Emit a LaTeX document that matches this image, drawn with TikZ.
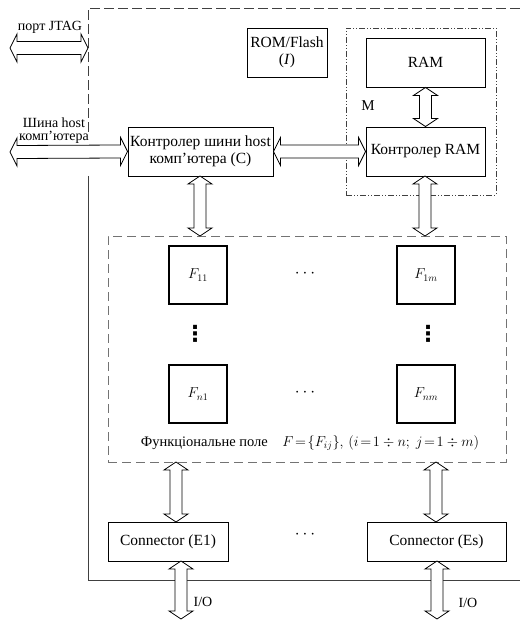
\documentclass[tikz,border=0pt]{standalone}
\usepackage{fontspec}
\setmainfont{Liberation Serif}
\newfontfamily\dotsfont{DejaVu Sans}
\usetikzlibrary{calc}

\tikzset{
  box/.style={draw, line width=0.9pt, align=center, inner sep=1pt, font=\fontsize{15.5}{17}\selectfont},
  fbox/.style={draw, line width=2.4pt, minimum width=58pt, minimum height=58pt, inner sep=0pt, font=\fontsize{14}{15}\selectfont},
  board/.style={black!75, line width=0.9pt, dash pattern=on 10pt off 4pt},
  fieldbox/.style={draw=black!55, line width=0.9pt, dash pattern=on 9pt off 5pt},
  membox/.style={draw=black!75, line width=0.8pt, dash pattern=on 6pt off 2pt on 1pt off 2pt on 1pt off 2pt},
  lbl/.style={inner sep=0pt, align=center, font=\fontsize{14}{14}\selectfont},
  hbus/.style={draw, fill=white, line width=0.8pt, to path={
    -- ([shift={(7pt,14pt)}]\tikztostart) -- ([shift={(7pt,6.5pt)}]\tikztostart)
    -- ([shift={(-7pt,6.5pt)}]\tikztotarget) -- ([shift={(-7pt,14pt)}]\tikztotarget)
    -- (\tikztotarget)
    -- ([shift={(-7pt,-14pt)}]\tikztotarget) -- ([shift={(-7pt,-6.5pt)}]\tikztotarget)
    -- ([shift={(7pt,-6.5pt)}]\tikztostart) -- ([shift={(7pt,-14pt)}]\tikztostart) -- cycle}},
  vbus/.style={draw, fill=white, line width=0.8pt, to path={
    -- ([shift={(12pt,-8pt)}]\tikztostart) -- ([shift={(6pt,-8pt)}]\tikztostart)
    -- ([shift={(6pt,8pt)}]\tikztotarget) -- ([shift={(12pt,8pt)}]\tikztotarget)
    -- (\tikztotarget)
    -- ([shift={(-12pt,8pt)}]\tikztotarget) -- ([shift={(-6pt,8pt)}]\tikztotarget)
    -- ([shift={(-6pt,-8pt)}]\tikztostart) -- ([shift={(-12pt,-8pt)}]\tikztostart) -- cycle}},
}

\begin{document}
\begin{tikzpicture}[x=1pt, y=-1pt]
  \useasboundingbox (0,0) rectangle (520,620);

  % board outline
  \draw[board] (88,132) -- (88,8) -- (520,8);
  \draw[black!75, line width=0.9pt] (88,176) -- (88,580) -- (520,580);

  % memory group and functional field
  \node[membox, minimum width=150pt, minimum height=167pt] (mem) at (421,111.5) {};
  \node[fieldbox, minimum width=398pt, minimum height=226pt] (field) at (307,349) {};

  \begin{scope}[every node/.style={box}]
    \node[minimum width=80pt, minimum height=49pt] (rom) at (287,52.5) {ROM/Flash\\(\textit{I})};
    \node[minimum width=119pt, minimum height=49pt] (ram) at (425.5,62.5) {RAM};
    \node[minimum width=119pt, minimum height=49pt] (ramctl) at (425.5,151.5) {Контролер RAM};
    \node[minimum width=145pt, minimum height=49pt] (host) at (200.5,151.5) {Контролер шини host\\компʼютера (C)};
    \node[minimum width=120pt, minimum height=39pt] (con1) at (168,541.5) {Connector (E1)};
    \node[minimum width=139pt, minimum height=39pt] (cons) at (436.5,541.5) {Connector (Es)};
  \end{scope}

  \begin{scope}[every node/.style={fbox}]
    \node (F11) at (198,275) {$F_{11}$};
    \node (F1m) at (426,275) {$F_{1m}$};
    \node (Fn1) at (198,394) {$F_{n1}$};
    \node (Fnm) at (426,394) {$F_{nm}$};
  \end{scope}

  % dots
  \begin{scope}[every node/.style={inner sep=0pt, font=\fontsize{16}{16}\selectfont}]
    \node (d1) at (305,274) {$\cdots$};
    \node (d2) at (305,393) {$\cdots$};
    \node (d3) at (305,535) {$\cdots$};
    \node[font=\dotsfont\bfseries\fontsize{22}{22}\selectfont] (d4) at (195,334) {⋮};
    \node[font=\dotsfont\bfseries\fontsize{22}{22}\selectfont] (d5) at (428,334) {⋮};
  \end{scope}

  % labels
  \node[lbl] (jtaglbl) at (50,27) {порт JTAG};
  \node[lbl, font=\fontsize{14}{13}\selectfont] (buslbl) at (54,131) {Шина host\\компʼютера};
  \node[lbl, font=\fontsize{15}{15}\selectfont] (mlbl) at (368,106) {M};
  \node[lbl, font=\fontsize{14.5}{15}\selectfont] (fieldlbl) at (310,443)
    {Функціональне поле\quad $F\!=\!\{F_{ij}\},\,(i\!=\!1\div n;\ j\!=\!1\div m)$};
  \node[lbl] (io1lbl) at (203,602) {I/O};
  \node[lbl] (io2lbl) at (468,603) {I/O};

  % free ends
  \coordinate (jtagL) at (10,48);
  \coordinate (jtagR) at (88,48);
  \coordinate (busL) at (10,152);
  \coordinate (fb1) at (176,462);
  \coordinate (fb2) at (436,462);
  \coordinate (c1) at (176,522);
  \coordinate (c2) at (436,522);
  \coordinate (o1) at (181,561);
  \coordinate (o2) at (437,561);
  \coordinate (io1) at (181,619);
  \coordinate (io2) at (437,619);
  \coordinate (h1) at (200,176);
  \coordinate (h2) at (200,236);
  \coordinate (r1) at (425,176);
  \coordinate (r2) at (425,236);

  % buses
  \path (jtagL) edge[hbus] (jtagR);
  \path (busL) edge[hbus] (host.west);
  \path (host.east) edge[hbus] (ramctl.west);
  \path (ram.south) edge[vbus] (ramctl.north);
  \path (h1) edge[vbus] (h2);
  \path (r1) edge[vbus] (r2);
  \path (fb1) edge[vbus] (c1);
  \path (fb2) edge[vbus] (c2);
  \path (o1) edge[vbus] (io1);
  \path (o2) edge[vbus] (io2);
\end{tikzpicture}
\end{document}
